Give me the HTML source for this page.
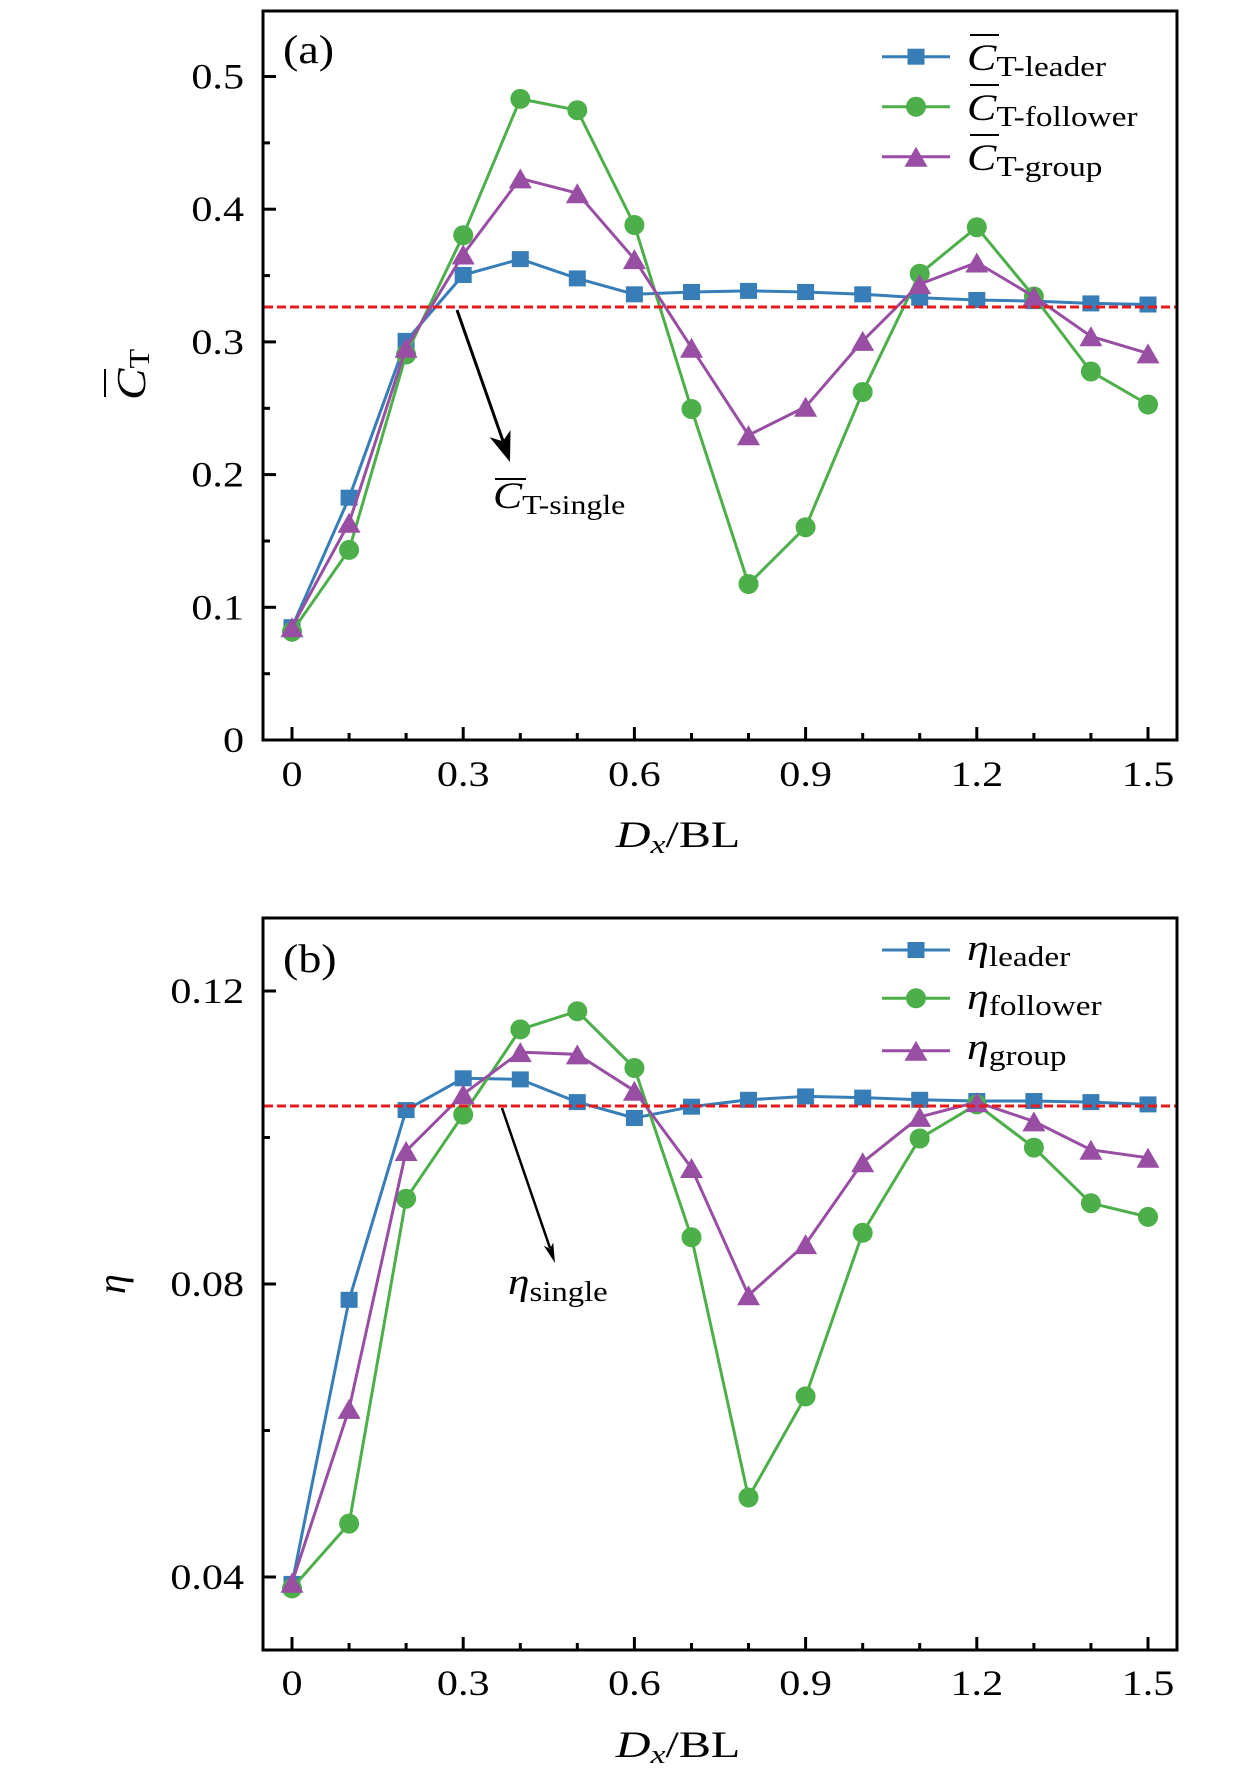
<!DOCTYPE html>
<html>
<head>
<meta charset="utf-8">
<style>
  html, body { margin: 0; padding: 0; background: #ffffff; }
  svg { display: block; }
  text { font-family: "Liberation Serif", "DejaVu Serif", serif; fill: #000; }
</style>
</head>
<body>
<svg width="1260" height="1780" viewBox="0 0 1260 1780" xmlns="http://www.w3.org/2000/svg">
  <defs>
    <marker id="mSq" markerUnits="userSpaceOnUse" markerWidth="20" markerHeight="20" refX="0" refY="0" overflow="visible">
      <rect x="-8.5" y="-8" width="17" height="16" fill="#377eb8"/>
    </marker>
    <marker id="mCi" markerUnits="userSpaceOnUse" markerWidth="20" markerHeight="20" refX="0" refY="0" overflow="visible">
      <circle cx="0" cy="0" r="10" fill="#4daf4a"/>
    </marker>
    <marker id="mTr" markerUnits="userSpaceOnUse" markerWidth="20" markerHeight="20" refX="0" refY="0" overflow="visible">
      <polygon points="0,-10 11.5,10 -11.5,10" fill="#984ea3"/>
    </marker>
  </defs>

  <rect x="0" y="0" width="1260" height="1780" fill="#ffffff"/>

  <!-- ================= PANEL (a) ================= -->
  <polyline fill="none" stroke="#377eb8" stroke-width="3" stroke-linejoin="round"
    marker-start="url(#mSq)" marker-mid="url(#mSq)" marker-end="url(#mSq)"
    points="292,627.2 349.1,497.7 406.1,340.9 463.2,275.0 520.3,259.1 577.3,278.4 634.4,294.3 691.5,292.0 748.5,290.9 805.6,292.0 862.7,294.3 919.7,297.7 976.8,300.0 1033.9,301.1 1090.9,303.4 1148,304.5"/>
  <polyline fill="none" stroke="#4daf4a" stroke-width="3" stroke-linejoin="round"
    marker-start="url(#mCi)" marker-mid="url(#mCi)" marker-end="url(#mCi)"
    points="292,631.7 349.1,549.9 406.1,354.5 463.2,235.2 520.3,98.9 577.3,110.2 634.4,225.0 691.5,409.0 748.5,584.0 805.6,527.2 862.7,392.0 919.7,273.8 976.8,227.2 1033.9,296.5 1090.9,371.5 1148,404.5"/>
  <polyline fill="none" stroke="#984ea3" stroke-width="3" stroke-linejoin="round"
    marker-start="url(#mTr)" marker-mid="url(#mTr)" marker-end="url(#mTr)"
    points="292,627.2 349.1,522.7 406.1,347.7 463.2,254.5 520.3,178.4 577.3,193.2 634.4,259.1 691.5,347.7 748.5,435.2 805.6,406.8 862.7,340.9 919.7,284.1 976.8,262.5 1033.9,296.5 1090.9,336.3 1148,353.4"/>

  <line x1="264" y1="307" x2="1176" y2="307" stroke="#e41a1c" stroke-width="3" stroke-dasharray="9,4"/>

  <line x1="457" y1="310" x2="503" y2="441" stroke="#000" stroke-width="3"/>
  <polygon points="510,462 510.5,430.1 502.8,441.2 489.7,437.3" fill="#000"/>

  <line x1="495" y1="479" x2="526" y2="479" stroke="#000" stroke-width="2"/>
  <text transform="translate(493,508) scale(1.18,1)"><tspan font-style="italic" font-size="37">C</tspan><tspan font-size="27" dy="6">T-single</tspan></text>

  <rect x="263" y="11" width="914" height="729" fill="none" stroke="#000" stroke-width="3"/>

  <g stroke="#000" stroke-width="3">
    <line x1="263" y1="76.5" x2="276" y2="76.5"/>
    <line x1="263" y1="209.2" x2="276" y2="209.2"/>
    <line x1="263" y1="341.9" x2="276" y2="341.9"/>
    <line x1="263" y1="474.6" x2="276" y2="474.6"/>
    <line x1="263" y1="607.3" x2="276" y2="607.3"/>
    <line x1="263" y1="142.9" x2="270" y2="142.9"/>
    <line x1="263" y1="275.6" x2="270" y2="275.6"/>
    <line x1="263" y1="408.3" x2="270" y2="408.3"/>
    <line x1="263" y1="541.0" x2="270" y2="541.0"/>
    <line x1="263" y1="673.7" x2="270" y2="673.7"/>
  </g>
  <g stroke="#000" stroke-width="3">
    <line x1="292" y1="740" x2="292" y2="727"/>
    <line x1="463.2" y1="740" x2="463.2" y2="727"/>
    <line x1="634.4" y1="740" x2="634.4" y2="727"/>
    <line x1="805.6" y1="740" x2="805.6" y2="727"/>
    <line x1="976.8" y1="740" x2="976.8" y2="727"/>
    <line x1="1148" y1="740" x2="1148" y2="727"/>
    <line x1="349.1" y1="740" x2="349.1" y2="733"/>
    <line x1="406.1" y1="740" x2="406.1" y2="733"/>
    <line x1="520.3" y1="740" x2="520.3" y2="733"/>
    <line x1="577.3" y1="740" x2="577.3" y2="733"/>
    <line x1="691.5" y1="740" x2="691.5" y2="733"/>
    <line x1="748.5" y1="740" x2="748.5" y2="733"/>
    <line x1="862.7" y1="740" x2="862.7" y2="733"/>
    <line x1="919.7" y1="740" x2="919.7" y2="733"/>
    <line x1="1033.9" y1="740" x2="1033.9" y2="733"/>
    <line x1="1090.9" y1="740" x2="1090.9" y2="733"/>
  </g>

  <g font-size="36" text-anchor="end">
    <text transform="translate(244,88.5) scale(1.17,1)">0.5</text>
    <text transform="translate(244,221.2) scale(1.17,1)">0.4</text>
    <text transform="translate(244,353.9) scale(1.17,1)">0.3</text>
    <text transform="translate(244,486.6) scale(1.17,1)">0.2</text>
    <text transform="translate(244,619.3) scale(1.17,1)">0.1</text>
    <text transform="translate(244,752) scale(1.17,1)">0</text>
  </g>
  <g font-size="36" text-anchor="middle">
    <text transform="translate(292,786) scale(1.17,1)">0</text>
    <text transform="translate(463.2,786) scale(1.17,1)">0.3</text>
    <text transform="translate(634.4,786) scale(1.17,1)">0.6</text>
    <text transform="translate(805.6,786) scale(1.17,1)">0.9</text>
    <text transform="translate(976.8,786) scale(1.17,1)">1.2</text>
    <text transform="translate(1148,786) scale(1.17,1)">1.5</text>
  </g>

  <text transform="translate(678,847) scale(1.3,1)" font-size="37" text-anchor="middle"><tspan font-style="italic">D</tspan><tspan font-style="italic" font-size="26" dy="6">x</tspan><tspan dy="-6">/BL</tspan></text>

  <line x1="105" y1="369" x2="105" y2="397" stroke="#000" stroke-width="2"/>
  <text transform="translate(145,400) rotate(-90) scale(1.15,1)"><tspan font-style="italic" font-size="41">C</tspan><tspan font-size="28" dy="4">T</tspan></text>

  <text transform="translate(283,63) scale(1.15,1)" font-size="40">(a)</text>

  <!-- legend (a) -->
  <line x1="882" y1="56.7" x2="950" y2="56.7" stroke="#377eb8" stroke-width="3"/>
  <rect x="907.5" y="48.7" width="17" height="16" fill="#377eb8"/>
  <line x1="882" y1="106.7" x2="950" y2="106.7" stroke="#4daf4a" stroke-width="3"/>
  <circle cx="916" cy="106.7" r="10" fill="#4daf4a"/>
  <line x1="882" y1="156.7" x2="950" y2="156.7" stroke="#984ea3" stroke-width="3"/>
  <polygon points="916,146.7 927.5,166.7 904.5,166.7" fill="#984ea3"/>

  <g stroke="#000" stroke-width="2">
    <line x1="970" y1="35" x2="999" y2="35"/>
    <line x1="970" y1="85" x2="999" y2="85"/>
    <line x1="970" y1="135" x2="999" y2="135"/>
  </g>
  <text transform="translate(967,70) scale(1.19,1)"><tspan font-style="italic" font-size="37">C</tspan><tspan font-size="28" dy="6">T-leader</tspan></text>
  <text transform="translate(967,120) scale(1.19,1)"><tspan font-style="italic" font-size="37">C</tspan><tspan font-size="28" dy="6">T-follower</tspan></text>
  <text transform="translate(967,170) scale(1.19,1)"><tspan font-style="italic" font-size="37">C</tspan><tspan font-size="28" dy="6">T-group</tspan></text>

  <!-- ================= PANEL (b) ================= -->
  <polyline fill="none" stroke="#377eb8" stroke-width="3" stroke-linejoin="round"
    marker-start="url(#mSq)" marker-mid="url(#mSq)" marker-end="url(#mSq)"
    points="292,1583.9 349.1,1299.8 406.1,1110.1 463.2,1078.3 520.3,1079.4 577.3,1102.1 634.4,1118.0 691.5,1106.7 748.5,1099.8 805.6,1096.4 862.7,1097.6 919.7,1099.8 976.8,1101.0 1033.9,1101.0 1090.9,1102.1 1148,1104.4"/>
  <polyline fill="none" stroke="#4daf4a" stroke-width="3" stroke-linejoin="round"
    marker-start="url(#mCi)" marker-mid="url(#mCi)" marker-end="url(#mCi)"
    points="292,1588.4 349.1,1523.6 406.1,1198.7 463.2,1114.6 520.3,1029.4 577.3,1011.2 634.4,1068.0 691.5,1237.3 748.5,1497.5 805.6,1396.4 862.7,1232.8 919.7,1138.5 976.8,1104.4 1033.9,1147.6 1090.9,1203.2 1148,1216.9"/>
  <polyline fill="none" stroke="#984ea3" stroke-width="3" stroke-linejoin="round"
    marker-start="url(#mTr)" marker-mid="url(#mTr)" marker-end="url(#mTr)"
    points="292,1582.7 349.1,1408.9 406.1,1151.0 463.2,1094.2 520.3,1052.1 577.3,1054.4 634.4,1090.8 691.5,1168.0 748.5,1295.3 805.6,1244.1 862.7,1162.3 919.7,1116.9 976.8,1102.1 1033.9,1121.4 1090.9,1149.8 1148,1157.8"/>

  <line x1="264" y1="1106" x2="1176" y2="1106" stroke="#e41a1c" stroke-width="3" stroke-dasharray="9,4"/>

  <line x1="502" y1="1108" x2="550" y2="1248" stroke="#000" stroke-width="2.5"/>
  <polygon points="555,1263 553.2,1242.5 550.1,1248.8 543.8,1245.7" fill="#000"/>

  <text transform="translate(508,1294) scale(1.17,1)"><tspan font-style="italic" font-size="37">η</tspan><tspan font-size="28" dy="7">single</tspan></text>

  <rect x="263" y="918" width="914" height="732" fill="none" stroke="#000" stroke-width="3"/>

  <g stroke="#000" stroke-width="3">
    <line x1="263" y1="991" x2="276" y2="991"/>
    <line x1="263" y1="1284" x2="276" y2="1284"/>
    <line x1="263" y1="1577" x2="276" y2="1577"/>
    <line x1="263" y1="1137.5" x2="270" y2="1137.5"/>
    <line x1="263" y1="1430.5" x2="270" y2="1430.5"/>
  </g>
  <g stroke="#000" stroke-width="3">
    <line x1="292" y1="1650" x2="292" y2="1637"/>
    <line x1="463.2" y1="1650" x2="463.2" y2="1637"/>
    <line x1="634.4" y1="1650" x2="634.4" y2="1637"/>
    <line x1="805.6" y1="1650" x2="805.6" y2="1637"/>
    <line x1="976.8" y1="1650" x2="976.8" y2="1637"/>
    <line x1="1148" y1="1650" x2="1148" y2="1637"/>
    <line x1="349.1" y1="1650" x2="349.1" y2="1643"/>
    <line x1="406.1" y1="1650" x2="406.1" y2="1643"/>
    <line x1="520.3" y1="1650" x2="520.3" y2="1643"/>
    <line x1="577.3" y1="1650" x2="577.3" y2="1643"/>
    <line x1="691.5" y1="1650" x2="691.5" y2="1643"/>
    <line x1="748.5" y1="1650" x2="748.5" y2="1643"/>
    <line x1="862.7" y1="1650" x2="862.7" y2="1643"/>
    <line x1="919.7" y1="1650" x2="919.7" y2="1643"/>
    <line x1="1033.9" y1="1650" x2="1033.9" y2="1643"/>
    <line x1="1090.9" y1="1650" x2="1090.9" y2="1643"/>
  </g>

  <g font-size="36" text-anchor="end">
    <text transform="translate(244,1003) scale(1.17,1)">0.12</text>
    <text transform="translate(244,1296) scale(1.17,1)">0.08</text>
    <text transform="translate(244,1589) scale(1.17,1)">0.04</text>
  </g>
  <g font-size="36" text-anchor="middle">
    <text transform="translate(292,1695) scale(1.17,1)">0</text>
    <text transform="translate(463.2,1695) scale(1.17,1)">0.3</text>
    <text transform="translate(634.4,1695) scale(1.17,1)">0.6</text>
    <text transform="translate(805.6,1695) scale(1.17,1)">0.9</text>
    <text transform="translate(976.8,1695) scale(1.17,1)">1.2</text>
    <text transform="translate(1148,1695) scale(1.17,1)">1.5</text>
  </g>

  <text transform="translate(678,1757) scale(1.3,1)" font-size="37" text-anchor="middle"><tspan font-style="italic">D</tspan><tspan font-style="italic" font-size="26" dy="6">x</tspan><tspan dy="-6">/BL</tspan></text>

  <text transform="translate(125,1294) rotate(-90)" font-size="40" font-style="italic">η</text>

  <text transform="translate(283,972) scale(1.15,1)" font-size="40">(b)</text>

  <!-- legend (b) -->
  <line x1="882" y1="950" x2="950" y2="950" stroke="#377eb8" stroke-width="3"/>
  <rect x="907.5" y="942" width="17" height="16" fill="#377eb8"/>
  <line x1="882" y1="998.3" x2="950" y2="998.3" stroke="#4daf4a" stroke-width="3"/>
  <circle cx="916" cy="998.3" r="10" fill="#4daf4a"/>
  <line x1="882" y1="1050.7" x2="950" y2="1050.7" stroke="#984ea3" stroke-width="3"/>
  <polygon points="916,1040.7 927.5,1060.7 904.5,1060.7" fill="#984ea3"/>

  <text transform="translate(967,960) scale(1.19,1)"><tspan font-style="italic" font-size="37">η</tspan><tspan font-size="28" dy="6">leader</tspan></text>
  <text transform="translate(967,1009) scale(1.19,1)"><tspan font-style="italic" font-size="37">η</tspan><tspan font-size="28" dy="6">follower</tspan></text>
  <text transform="translate(967,1059) scale(1.19,1)"><tspan font-style="italic" font-size="37">η</tspan><tspan font-size="28" dy="6">group</tspan></text>
</svg>
</body>
</html>
